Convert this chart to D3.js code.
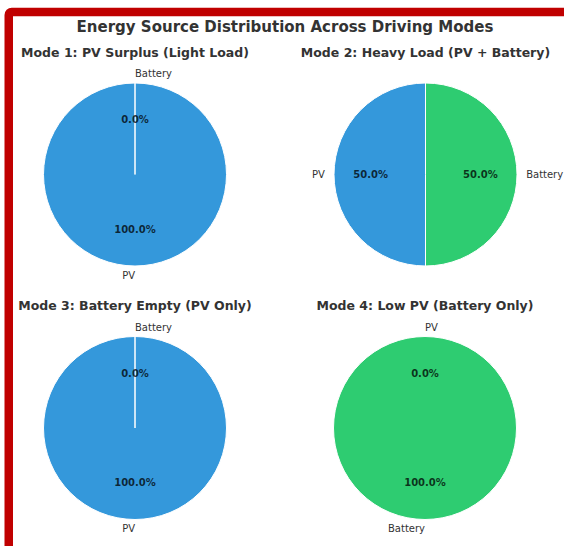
<!DOCTYPE html>
<html>
<head>
<meta charset="utf-8">
<script src="https://cdn.jsdelivr.net/npm/d3@7"></script>
<style>
  html, body { margin: 0; padding: 0; background: #fff; overflow: hidden; }
  svg text { font-family: "DejaVu Sans", sans-serif; }
</style>
</head>
<body>
<div id="chart"></div>
<script>
const width = 564;
const height = 546;

// data
const sources = ['PV', 'Battery'];
const modeTitles = [
  'Mode 1: PV Surplus (Light Load)',
  'Mode 2: Heavy Load (PV + Battery)',
  'Mode 3: Battery Empty (PV Only)',
  'Mode 4: Low PV (Battery Only)'
];
const mode1 = [100, 0];
const mode2 = [50, 50];
const mode3 = [100, 0];
const mode4 = [0, 100];
const modeValues = [mode1, mode2, mode3, mode4];
const sourceColors = ['#3498db', '#2ecc71'];

const svg = d3.select('#chart')
  .append('svg')
  .attr('width', width)
  .attr('height', height);

// red frame (top + left)
svg.append('rect')
  .attr('x', 8.75)
  .attr('y', 12)
  .attr('width', width + 20)
  .attr('height', height + 20)
  .attr('rx', 3)
  .attr('fill', 'none')
  .attr('stroke', '#c00000')
  .attr('stroke-width', 8.5);

svg.append('text')
  .attr('x', 285)
  .attr('y', 27)
  .attr('dy', '0.35em')
  .attr('text-anchor', 'middle')
  .style('font-size', '15px')
  .style('font-weight', 'bold')
  .style('fill', '#333')
  .text('Energy Source Distribution Across Driving Modes');

const centers = [[135, 174.5], [425.5, 174.5], [135, 428], [425, 428]];
const radius = 91.5;

const color = d3.scaleOrdinal().domain(sources).range(sourceColors);

// matplotlib style: startangle 90, counterclockwise
const pie = d3.pie()
  .sort(null)
  .startAngle(0)
  .endAngle(-2 * Math.PI)
  .value(d => d.value);

const arc = d3.arc().innerRadius(0).outerRadius(radius);

modeValues.forEach((vals, i) => {
  const [cx, cy] = centers[i];
  const g = svg.append('g').attr('transform', `translate(${cx},${cy})`);

  g.append('text')
    .attr('x', 0)
    .attr('y', -122)
    .attr('dy', '0.35em')
    .attr('text-anchor', 'middle')
    .style('font-size', '12.5px')
    .style('font-weight', 'bold')
    .style('fill', '#333')
    .text(modeTitles[i]);

  const data = sources.map((s, j) => ({ name: s, value: vals[j] }));
  const total = d3.sum(vals);
  const arcs = pie(data);

  g.selectAll('path')
    .data(arcs)
    .join('path')
    .attr('d', arc)
    .attr('fill', d => color(d.data.name))
    .attr('stroke', '#fff')
    .attr('stroke-width', 1);

  arcs.forEach(d => {
    const mid = (d.startAngle + d.endAngle) / 2;
    const sx = Math.sin(mid), sy = -Math.cos(mid);
    // percentage labels
    g.append('text')
      .attr('x', sx * radius * 0.6)
      .attr('y', sy * radius * 0.6)
      .attr('dy', '0.35em')
      .attr('text-anchor', 'middle')
      .style('font-size', '10px')
      .style('font-weight', 'bold')
      .style('fill', '#000')
      .style('fill-opacity', 0.75)
      .text((100 * d.data.value / total).toFixed(1) + '%');
    // source labels
    const lx = Math.round(sx * 1e6) / 1e6;
    g.append('text')
      .attr('x', sx * radius * 1.1)
      .attr('y', sy * radius * 1.1)
      .attr('dy', '0.35em')
      .attr('text-anchor', lx > 0 ? 'start' : lx < 0 ? 'end' : (sy < 0 ? 'start' : 'end'))
      .style('font-size', '10px')
      .style('fill', '#333')
      .text(d.data.name);
  });
});
</script>
</body>
</html>
